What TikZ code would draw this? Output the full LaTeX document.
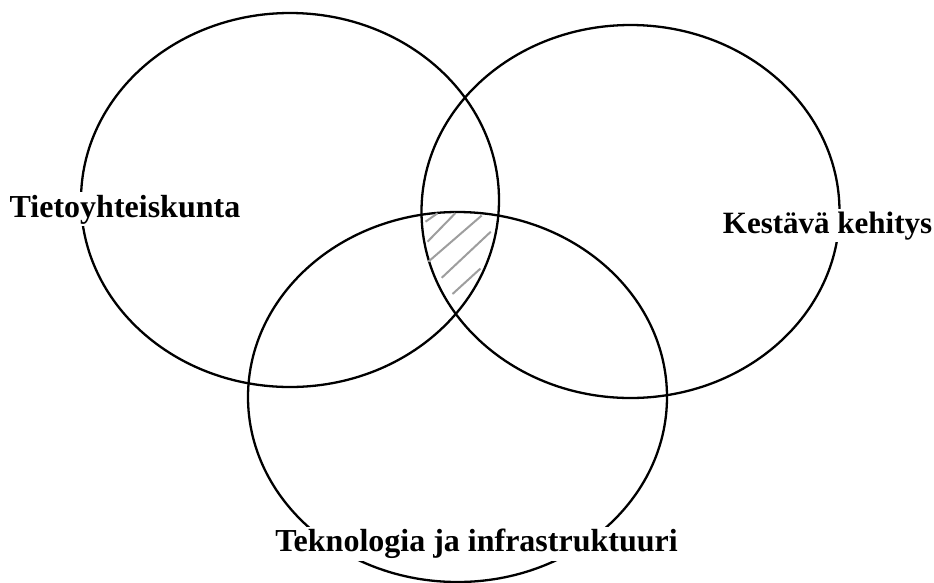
\documentclass[tikz,border=0pt]{standalone}
\usepackage{fontspec}
\setmainfont{Liberation Serif}
\begin{document}
\begin{tikzpicture}[x=1pt,y=-1pt,
  ring/.style={draw=black,line width=2.3pt},
  hatch/.style={draw=black!38,line width=2pt},
  label/.style={fill=white,inner sep=2.5pt,anchor=base,font=\bfseries\fontsize{32}{38}\selectfont}]
\useasboundingbox (0,0) rectangle (934,582);
% circles
\draw[ring] (290,200) ellipse [x radius=209pt, y radius=187pt];
\draw[ring] (630.5,211.5) ellipse [x radius=209pt, y radius=186.5pt];
\draw[ring] (457.5,397) ellipse [x radius=209.5pt, y radius=185pt];
% hatching of the common area
\draw[hatch] (425.5,221.7) -- (437.5,213.3);
\draw[hatch] (427.5,241.7) -- (455.5,213);
\draw[hatch] (428.3,261.7) -- (481.7,215.5);
\draw[hatch] (441.7,277.8) -- (490.8,231.7);
\draw[hatch] (452.5,294) -- (480.4,268.6);
% labels
\node[label] (soc) at (125,217) {Tietoyhteiskunta};
\node[label,font=\bfseries\fontsize{31}{37}\selectfont] (sus) at (827.5,233) {Kestävä kehitys};
\node[label] (tec) at (476.5,551.7) {Teknologia ja infrastruktuuri};
\end{tikzpicture}
\end{document}
